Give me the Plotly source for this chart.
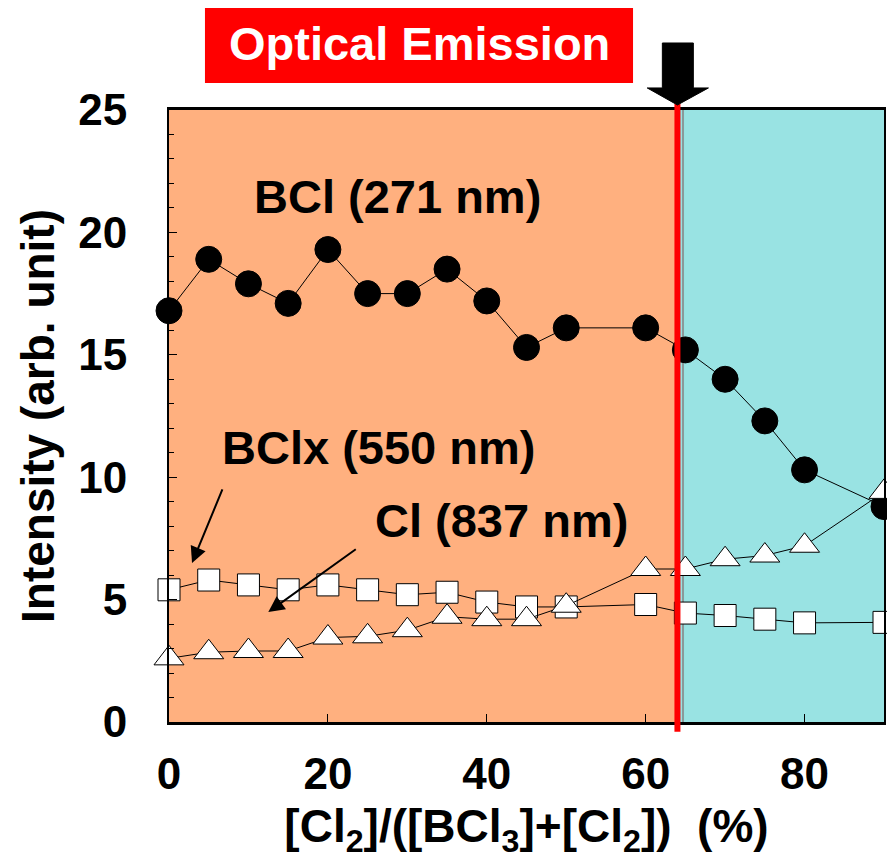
import plotly.graph_objects as go

# ---- data ----
ratio = [0, 5, 10, 15, 20, 25, 30, 35, 40, 45, 50, 60, 65, 70, 75, 80, 90]
bcl_271 = [16.8, 18.9, 17.9, 17.1, 19.3, 17.5, 17.5, 18.5, 17.2, 15.3, 16.1, 16.1, 15.2, 14.0, 12.3, 10.3, 8.8]
bclx_550 = [5.4, 5.8, 5.6, 5.4, 5.6, 5.4, 5.2, 5.3, 4.9, 4.7, 4.7, 4.8, 4.45, 4.35, 4.2, 4.05, 4.07]
cl_837 = [2.6, 2.85, 2.9, 2.9, 3.45, 3.5, 3.75, 4.3, 4.2, 4.2, 4.75, 6.25, 6.25, 6.65, 6.8, 7.2, 9.4]
x_ticks = [0, 20, 40, 60, 80]
y_ticks = [0, 5, 10, 15, 20, 25]
split_x = 64

FONT = "Liberation Sans, Arial, sans-serif"

fig = go.Figure()

# background regions
fig.add_shape(type="rect", xref="x", yref="paper", x0=0, x1=split_x, y0=0, y1=1,
              fillcolor="#FFB07F", line_width=0, layer="below")
fig.add_shape(type="rect", xref="x", yref="paper", x0=split_x, x1=90, y0=0, y1=1,
              fillcolor="#99E3E3", line_width=0, layer="below")
fig.add_shape(type="line", xref="x", yref="paper", x0=split_x + 0.7, x1=split_x + 0.7, y0=0, y1=1,
              line=dict(color="#8a9a9a", width=2), layer="below")

line_style = dict(color="black", width=1)
fig.add_trace(go.Scatter(x=ratio, y=bcl_271, mode="lines+markers", line=line_style,
                         marker=dict(symbol="circle", size=26, color="black",
                                     line=dict(color="black", width=1)),
                         cliponaxis=False, name="BCl (271 nm)"))
fig.add_trace(go.Scatter(x=ratio, y=bclx_550, mode="lines+markers", line=line_style,
                         marker=dict(symbol="square", size=22, color="white",
                                     line=dict(color="black", width=1)),
                         cliponaxis=False, name="BClx (550 nm)"))
fig.add_trace(go.Scatter(x=ratio, y=cl_837, mode="lines+markers", line=line_style,
                         marker=dict(symbol="triangle-up", size=26, color="white",
                                     line=dict(color="black", width=1)),
                         cliponaxis=False, name="Cl (837 nm)"))

# red divider line
fig.add_shape(type="line", xref="x", yref="paper", x0=split_x, x1=split_x, y0=-0.016, y1=1.01,
              line=dict(color="#FF0000", width=6), layer="above")

# black arrow above
fig.add_shape(type="path", xref="x", yref="paper",
              path="M 62.1 1.1095 L 66.0 1.1095 L 66.0 1.036 L 67.9 1.036 L 64 1.0082 "
                   "L 60.2 1.036 L 62.1 1.036 Z",
              fillcolor="black", line=dict(color="black", width=1))

# "Optical Emission" box
fig.add_shape(type="rect", xref="paper", yref="paper", x0=0.0503, x1=0.649, y0=1.044, y1=1.168,
              fillcolor="#FF0000", line_width=0)
fig.add_annotation(xref="paper", yref="paper", x=0.35, y=1.108, xanchor="center", yanchor="middle",
                   text="Optical Emission", showarrow=False,
                   font=dict(family=FONT, size=47, color="white", weight="bold"))

ann_font = dict(family=FONT, size=47, color="black", weight="bold")
fig.add_annotation(x=28.8, y=21.45, text="BCl (271 nm)", showarrow=False, font=ann_font)
fig.add_annotation(x=26.4, y=11.2, text="BClx (550 nm)", showarrow=False, font=ann_font)
fig.add_annotation(x=41.9, y=8.25, text="Cl (837 nm)", showarrow=False, font=ann_font)

# pointer arrows
fig.add_annotation(x=2.9, y=6.5, ax=6.8, ay=9.56, axref="x", ayref="y", text="",
                   showarrow=True, arrowhead=2, arrowsize=1.6, arrowwidth=2, arrowcolor="black")
fig.add_annotation(x=12.5, y=4.49, ax=23.7, ay=7.1, axref="x", ayref="y", text="",
                   showarrow=True, arrowhead=2, arrowsize=1.6, arrowwidth=2, arrowcolor="black")

tick_font = dict(family=FONT, size=44, color="black", weight="bold")
title_font = dict(family=FONT, size=46, color="black", weight="bold")
fig.update_layout(
    width=887, height=853,
    margin=dict(l=161, r=11, t=102, b=139, autoexpand=False),
    paper_bgcolor="white", plot_bgcolor="white",
    showlegend=False,
    xaxis=dict(range=[0, 90], tickvals=x_ticks, ticktext=[str(v) for v in x_ticks],
               ticks="inside", ticklen=8, tickwidth=1, tickcolor="black",
               showline=True, linecolor="black", linewidth=3, mirror=True,
               showgrid=False, zeroline=False, tickfont=tick_font, ticklabelstandoff=11,
               automargin=False,
               title=dict(text="[Cl<sub>2</sub>]/([BCl<sub>3</sub>]+[Cl<sub>2</sub>])\u00a0\u00a0(%)",
                          font=title_font, standoff=14)),
    yaxis=dict(range=[0, 25], tickvals=y_ticks, ticktext=[str(v) for v in y_ticks],
               ticks="inside", ticklen=8, tickwidth=1, tickcolor="black",
               minor=dict(dtick=1, ticks="inside", ticklen=5, tickcolor="black", tickwidth=1),
               showline=True, linecolor="black", linewidth=2, mirror=True,
               showgrid=False, zeroline=False, tickfont=tick_font, ticklabelstandoff=31,
               automargin=False,
               title=dict(text="Intensity (arb. unit)", font=title_font, standoff=9)),
)

fig.write_html("out.html")
